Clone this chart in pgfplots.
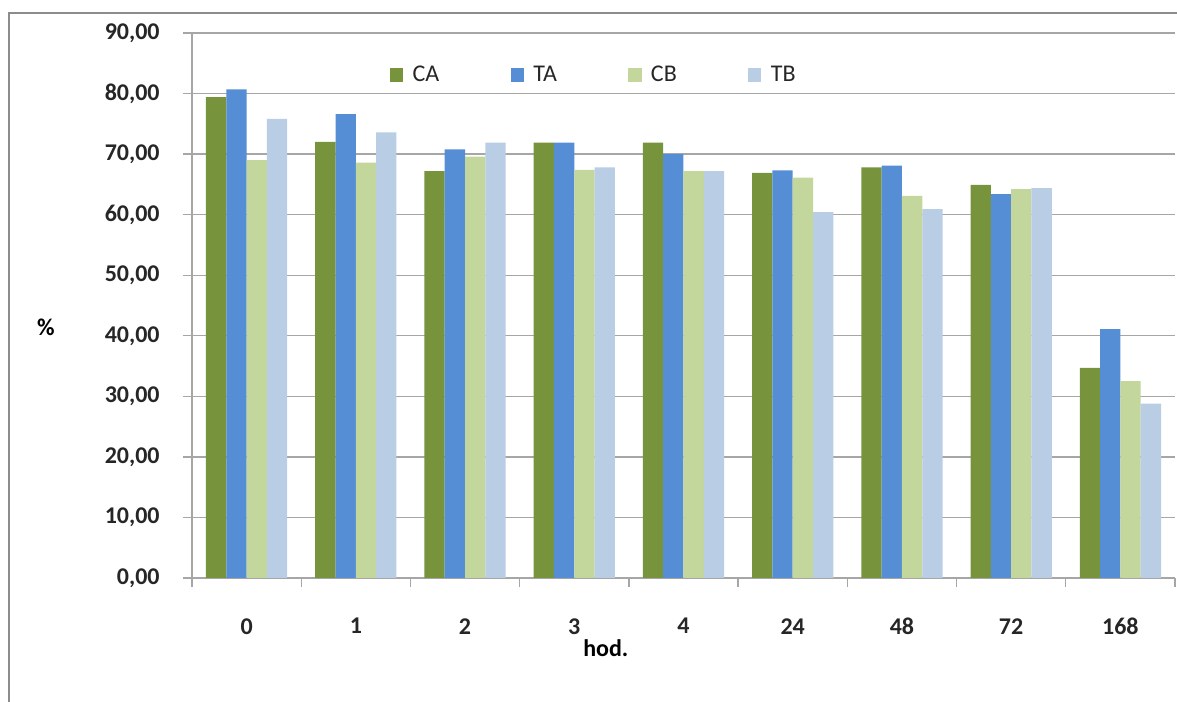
\documentclass[border=0pt]{standalone}
\usepackage{fontspec}
\setmainfont{Carlito}
\usepackage{pgfplots}
\pgfplotsset{compat=1.18}

\definecolor{caC}{HTML}{77933C}
\definecolor{taC}{HTML}{558ED5}
\definecolor{cbC}{HTML}{C3D69B}
\definecolor{tbC}{HTML}{B9CDE5}
\definecolor{gridC}{HTML}{A6A6A6}
\definecolor{frameC}{HTML}{8C8C8C}

\newcommand{\lblfont}{\fontsize{18}{20}\selectfont}

\begin{document}
\begin{tikzpicture}[x=1pt,y=1pt]
\useasboundingbox (-144,-93) rectangle (738.75,433.5);
\draw[frameC, line width=1.5pt] (-137.25,-93) -- (-137.25,423.75) -- (738.75,423.75);
\begin{axis}[
  at={(0,0)}, anchor=south west,
  scale only axis, width=737.25pt, height=408.75pt,
  xmin=-0.5, xmax=8.5, ymin=0, ymax=90,
  ytick={0,10,...,90},
  xtick={-0.5,0.5,...,8.5},
  x tick label as interval,
  xticklabels={0,1,2,3,4,24,48,72,168},
  axis x line*=bottom, axis y line*=left,
  axis line style={draw=gridC, line width=1pt, -},
  tick align=outside, major tick length=6.75pt,
  tick style={draw=gridC, line width=1pt},
  ymajorgrids, grid style={draw=gridC, line width=1pt},
  /pgf/number format/.cd, fixed, fixed zerofill, precision=2, use comma, assume math mode=true,
  /pgfplots/.cd,
  ticklabel style={font=\lblfont\bfseries, text=black!85},
  yticklabel style={xshift=-14pt},
  xticklabel style={yshift=-20pt},
  xlabel={hod.},
  every axis x label/.style={at={(axis description cs:0.421,0)}, yshift=-52.5pt, anchor=center, font=\lblfont\bfseries, text=black},
  ylabel={\%},
  every axis y label/.style={at={(axis description cs:0,0.4606)}, xshift=-109.5pt, anchor=center, font=\lblfont\bfseries, text=black},
  ybar, bar width=0.186,
  legend image code/.code={\fill[#1] (0pt,-5pt) rectangle (10pt,5pt);},
  legend columns=-1,
  legend style={at={(axis description cs:0.197,0.923)}, anchor=west, draw=none, fill=none,
    font=\lblfont, text=black!85,
    /tikz/every odd column/.append style={column sep=5pt},
    /tikz/every even column/.append style={column sep=51.5pt}},
]
\addplot[fill=caC, draw=none, bar shift=-0.279] coordinates
  {(0,79.4) (1,72.0) (2,67.2) (3,71.9) (4,71.9) (5,66.9) (6,67.8) (7,64.9) (8,34.7)};
\addplot[fill=taC, draw=none, bar shift=-0.093] coordinates
  {(0,80.7) (1,76.6) (2,70.8) (3,71.9) (4,70.0) (5,67.3) (6,68.1) (7,63.4) (8,41.1)};
\addplot[fill=cbC, draw=none, bar shift=0.093] coordinates
  {(0,69.0) (1,68.6) (2,69.6) (3,67.4) (4,67.2) (5,66.1) (6,63.1) (7,64.2) (8,32.5)};
\addplot[fill=tbC, draw=none, bar shift=0.279] coordinates
  {(0,75.8) (1,73.6) (2,71.9) (3,67.8) (4,67.2) (5,60.4) (6,60.9) (7,64.4) (8,28.8)};
\legend{CA,TA,CB,TB}
\end{axis}
\end{tikzpicture}
\end{document}
